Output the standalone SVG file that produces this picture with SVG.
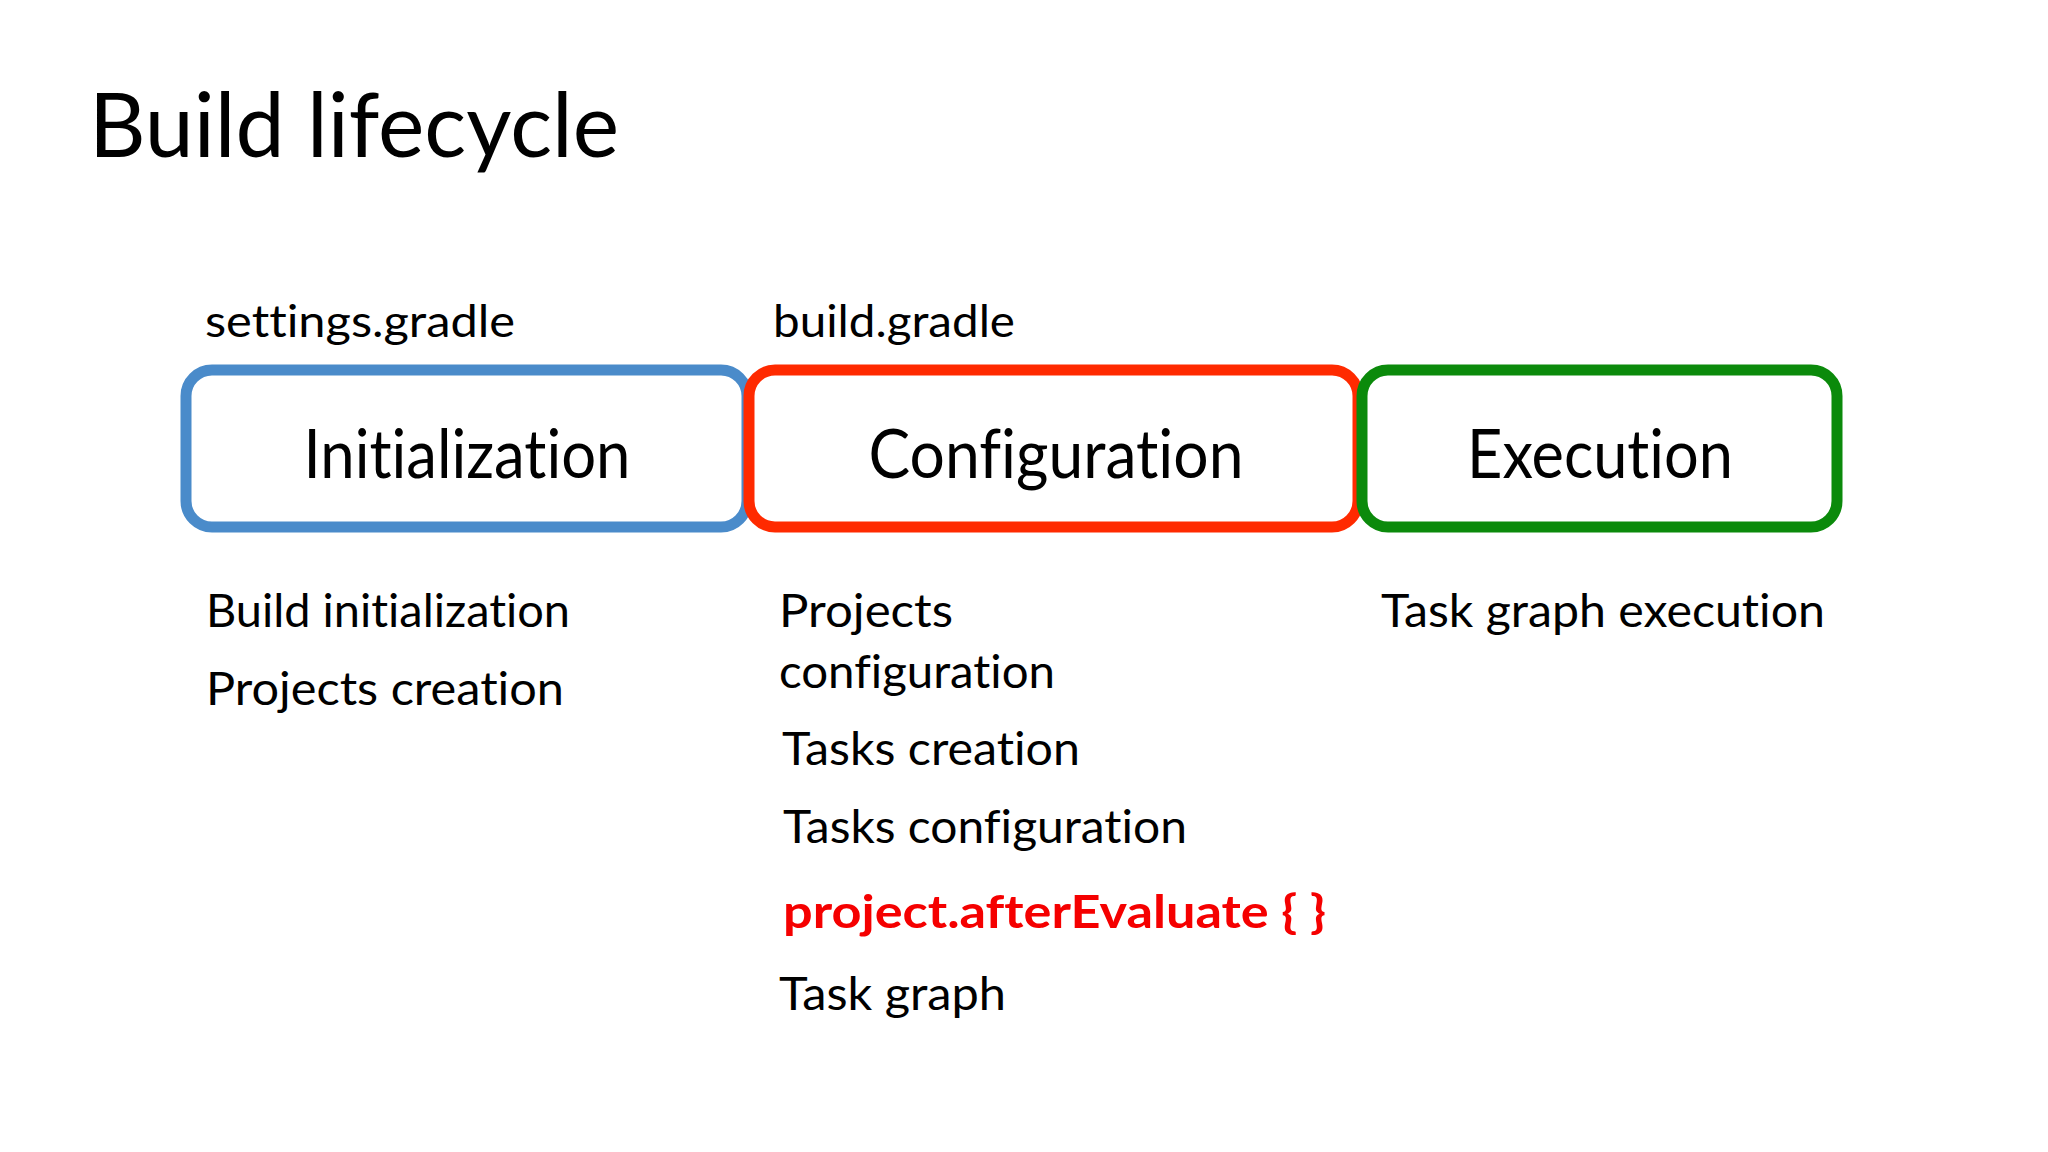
<svg xmlns="http://www.w3.org/2000/svg" width="2048" height="1152" viewBox="0 0 2048 1152">
  <style>
    text { font-family: "Lato", "Open Sans", "Liberation Sans", sans-serif; fill: #000000; font-variant-ligatures: none; font-weight: 400; }
    .title { font-size: 90px; }
    .file { font-size: 44px; }
    .phase { font-size: 68px; text-anchor: middle; }
    .item { font-size: 46px; }
    .hook { font-size: 46px; font-weight: bold; fill: #F50000; }
    .box { fill: #FFFFFF; stroke-width: 11; }
  </style>
  <rect width="2048" height="1152" fill="#FFFFFF"/>
  <text class="title" x="89" y="157" textLength="530" lengthAdjust="spacingAndGlyphs">Build lifecycle</text>

  <g id="connectors"></g>

  <g id="init">
    <text class="file" x="205" y="337" textLength="310" lengthAdjust="spacingAndGlyphs">settings.gradle</text>
    <rect class="box" x="186" y="370" width="561" height="157" rx="26" stroke="#4A8BCA"/>
    <text class="phase" x="467" y="478" textLength="327" lengthAdjust="spacingAndGlyphs">Initialization</text>
    <text class="item" x="206" y="627" textLength="364" lengthAdjust="spacingAndGlyphs">Build initialization</text>
    <text class="item" x="206" y="705" textLength="358" lengthAdjust="spacingAndGlyphs">Projects creation</text>
  </g>

  <g id="config">
    <text class="file" x="773" y="337" textLength="242" lengthAdjust="spacingAndGlyphs">build.gradle</text>
    <rect class="box" x="749" y="370" width="609" height="157" rx="26" stroke="#FF2A00"/>
    <text class="phase" x="1056" y="478" textLength="375" lengthAdjust="spacingAndGlyphs">Configuration</text>
    <text class="item" x="779" y="627" textLength="174" lengthAdjust="spacingAndGlyphs">Projects</text>
    <text class="item" x="779" y="688" textLength="276" lengthAdjust="spacingAndGlyphs">configuration</text>
    <text class="item" x="782" y="765" textLength="298" lengthAdjust="spacingAndGlyphs">Tasks creation</text>
    <text class="item" x="783" y="843" textLength="404" lengthAdjust="spacingAndGlyphs">Tasks configuration</text>
    <text class="hook" x="783" y="928" textLength="543" lengthAdjust="spacingAndGlyphs">project.afterEvaluate { }</text>
    <text class="item" x="779" y="1010" textLength="227" lengthAdjust="spacingAndGlyphs">Task graph</text>
  </g>

  <g id="exec">
    <rect class="box" x="1362" y="370" width="475" height="157" rx="26" stroke="#0B8A0B"/>
    <text class="phase" x="1600" y="478" textLength="266" lengthAdjust="spacingAndGlyphs">Execution</text>
    <text class="item" x="1381" y="627" textLength="444" lengthAdjust="spacingAndGlyphs">Task graph execution</text>
  </g>
</svg>
